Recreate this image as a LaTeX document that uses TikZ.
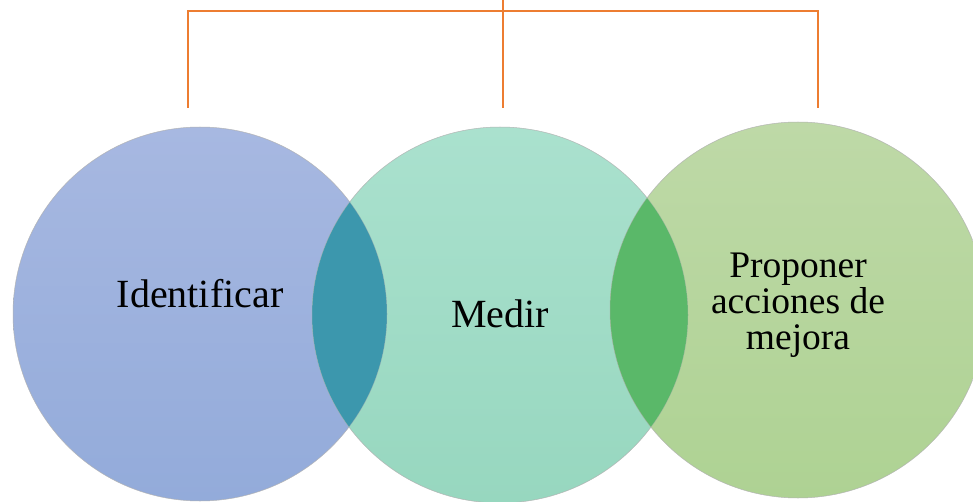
\documentclass[tikz,border=0pt]{standalone}
\usepackage{fontspec}
\setmainfont{Liberation Serif}
\definecolor{blueTop}{HTML}{A7B8E1}
\definecolor{blueBot}{HTML}{93ABDA}
\definecolor{tealTop}{HTML}{AAE1CE}
\definecolor{tealBot}{HTML}{97D7BF}
\definecolor{greenTop}{HTML}{BED9A7}
\definecolor{greenBot}{HTML}{AED293}
\definecolor{lensBlue}{HTML}{3C97AD}
\definecolor{lensGreen}{HTML}{5AB869}
\definecolor{bracket}{HTML}{ED7D31}
\tikzset{
  bubble/.style={circle, inner sep=0pt, draw=gray!60, draw opacity=0.6, line width=0.5pt},
  lbl/.style={inner sep=0pt, text=black, anchor=base},
  conn/.style={draw=bracket, line width=1.3pt}
}
\begin{document}
\begin{tikzpicture}[x=1pt,y=-1pt]
\useasboundingbox (0,0) rectangle (973,502);
% circles
\node[bubble, minimum size=374pt, top color=blueTop, bottom color=blueBot] (L) at (200,314) {};
\node[bubble, minimum size=376pt, top color=tealTop, bottom color=tealBot] (M) at (500,315) {};
\node[bubble, minimum size=376pt, top color=greenTop, bottom color=greenBot] (R) at (798,310) {};
% overlaps
\begin{scope}
  \clip (L) circle[radius=187pt];
  \fill[lensBlue] (M) circle[radius=188pt];
\end{scope}
\begin{scope}
  \clip (M) circle[radius=188pt];
  \fill[lensGreen] (R) circle[radius=188pt];
\end{scope}
\draw[gray!60, draw opacity=0.5, line width=0.5pt] (L) circle[radius=187pt] (M) circle[radius=188pt] (R) circle[radius=188pt];
% labels
\node[lbl, font=\fontsize{40}{40}\selectfont] (tL) at (200,307) {Identificar};
\node[lbl, font=\fontsize{40}{40}\selectfont] (tM) at (500,327) {Medir};
\node[inner sep=0pt, text=black, anchor=north, align=center, font=\fontsize{37.5}{36}\selectfont] (tR) at (798,253) {Proponer\\acciones de\\mejora};
% bracket
\coordinate (top) at (503,0);
\coordinate (hub) at (503,11);
\coordinate (a) at (188,108);
\coordinate (b) at (503,108);
\coordinate (c) at (818,108);
\draw[conn] (top) -- (b);
\draw[conn, line width=1.1pt] (a) -- (a|-hub) -- (c|-hub) -- (c);
\end{tikzpicture}
\end{document}
